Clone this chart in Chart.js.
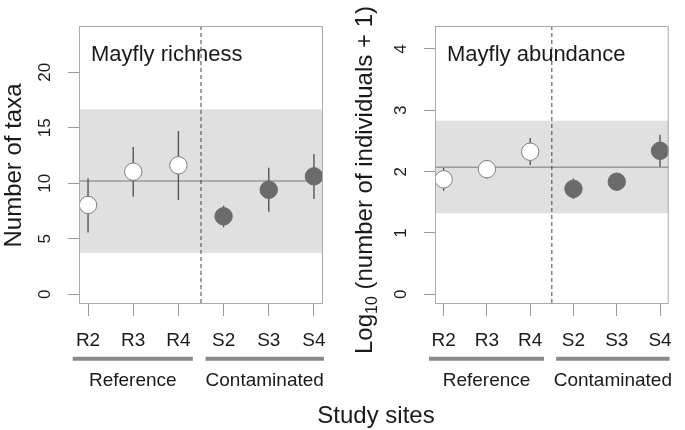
<!DOCTYPE html>
<html>
<head>
<meta charset="utf-8">
<script src="https://cdn.jsdelivr.net/npm/chart.js@4.4.1/dist/chart.umd.min.js"></script>
<style>
  html, body { margin: 0; padding: 0; background: #fff; }
  #wrap { position: relative; width: 685px; height: 430px; overflow: hidden; font-family: "Liberation Sans", Arial, sans-serif; }
  #left { position: absolute; left: 0; top: 0; }
  #right { position: absolute; left: 340px; top: 0; }
  #xtitle { position: absolute; left: 176px; width: 400px; top: 403px; text-align: center; font-size: 24px; line-height: 24px; color: #1a1a1a; }
</style>
</head>
<body>
<div id="wrap">
  <canvas id="left" width="340" height="430"></canvas>
  <canvas id="right" width="345" height="430"></canvas>
  <div id="xtitle">Study sites</div>
</div>
<script>
const sites = ["R2", "R3", "R4", "S2", "S3", "S4"];
const siteGroup = [0, 0, 0, 1, 1, 1];
const groups = ["Reference", "Contaminated"];
const groupStart = [0.66, 3.6];
const groupEnd = [3.32, 6.22];

const richMean = [8.05, 11.05, 11.62, 7.03, 9.42, 10.63];
const richLow = [5.58, 8.8, 8.5, 6.04, 7.44, 8.59];
const richHigh = [10.45, 13.27, 14.71, 7.98, 11.4, 12.64];
const richOverall = 10.2;
const richBand = [3.73, 16.67];
const richTicks = [0, 5, 10, 15, 20];

const abunMean = [1.875, 2.04, 2.325, 1.72, 1.836, 2.34];
const abunLow = [1.69, 1.89, 2.11, 1.555, 1.76, 2.08];
const abunHigh = [2.06, 2.19, 2.55, 1.89, 1.91, 2.6];
const abunOverall = 2.07;
const abunBand = [1.32, 2.83];
const abunTicks = [0, 1, 2, 3, 4];

const FONT = '"Liberation Sans", Arial, sans-serif';
const groupFill = ["#ffffff", "#6b6b6b"];
const groupBorder = ["#808080", "#6b6b6b"];

function panelPlugin(cfg) {
  return {
    id: "panel",
    beforeDatasetsDraw(chart) {
      const { ctx, chartArea: a, scales: { x, y } } = chart;
      ctx.save();
      // reference band
      const yTop = y.getPixelForValue(cfg.band[1]);
      const yBot = y.getPixelForValue(cfg.band[0]);
      ctx.fillStyle = "#e0e0e0";
      ctx.fillRect(a.left, yTop, a.right - a.left, yBot - yTop);
      // overall mean
      const ym = y.getPixelForValue(cfg.overall);
      ctx.strokeStyle = "#9a9a9a";
      ctx.lineWidth = 1.5;
      ctx.beginPath();
      ctx.moveTo(a.left, ym);
      ctx.lineTo(a.right, ym);
      ctx.stroke();
      // group divider
      const xd = x.getPixelForValue(3.5);
      ctx.strokeStyle = "#444";
      ctx.lineWidth = 1;
      ctx.setLineDash([4, 3]);
      ctx.beginPath();
      ctx.moveTo(xd, a.top);
      ctx.lineTo(xd, a.bottom);
      ctx.stroke();
      ctx.restore();
    },
    afterDraw(chart) {
      const { ctx, chartArea: a, scales: { x, y } } = chart;
      ctx.save();
      // box
      ctx.strokeStyle = "#aaaaaa";
      ctx.lineWidth = 1;
      ctx.strokeRect(a.left + 0.5, a.top + 0.5, a.right - a.left - 1, a.bottom - a.top - 1);

      ctx.fillStyle = "#1a1a1a";
      // panel label
      ctx.font = "22px " + FONT;
      ctx.textAlign = "left";
      ctx.textBaseline = "alphabetic";
      ctx.fillText(cfg.label, a.left + 12, 61);

      // rotated y tick labels
      ctx.font = "17px " + FONT;
      ctx.textAlign = "center";
      cfg.ticks.forEach((t) => {
        const py = y.getPixelForValue(t);
        ctx.save();
        ctx.translate(a.left - 29, py);
        ctx.rotate(-Math.PI / 2);
        ctx.fillText(String(t), 0, 0);
        ctx.restore();
      });

      // y title
      ctx.save();
      ctx.translate(cfg.titleX, cfg.titleY);
      ctx.rotate(-Math.PI / 2);
      let total = 0;
      cfg.title.forEach((p) => {
        ctx.font = p.size + "px " + FONT;
        total += ctx.measureText(p.text).width;
      });
      let cx = -total / 2;
      ctx.textAlign = "left";
      cfg.title.forEach((p) => {
        ctx.font = p.size + "px " + FONT;
        ctx.fillText(p.text, cx, p.shift || 0);
        cx += ctx.measureText(p.text).width;
      });
      ctx.restore();

      // group bars and names
      groups.forEach((g, i) => {
        const x0 = x.getPixelForValue(groupStart[i]);
        const x1 = x.getPixelForValue(groupEnd[i]);
        ctx.strokeStyle = "#8a8a8a";
        ctx.lineWidth = 4;
        ctx.beginPath();
        ctx.moveTo(x0, 358.7);
        ctx.lineTo(x1, 358.7);
        ctx.stroke();
        ctx.font = "19px " + FONT;
        ctx.textAlign = "center";
        ctx.fillText(g, (x0 + x1) / 2, 385.5);
      });
      ctx.restore();
    }
  };
}

function makePanel(canvas, cfg) {
  const points = cfg.mean.map((v, i) => ({ x: i + 1, y: v }));
  const bars = cfg.low.map((v, i) => ({ x: i + 1, y: [v, cfg.high[i]] }));
  return new Chart(canvas, {
    type: "scatter",
    data: {
      datasets: [
        {
          type: "bar",
          data: bars,
          backgroundColor: "#555555",
          barThickness: 1.4,
          inflateAmount: 0,
          borderWidth: 0,
          grouped: false,
          order: 2
        },
        {
          data: points,
          pointRadius: 8.7,
          pointBackgroundColor: points.map((_, i) => groupFill[siteGroup[i]]),
          pointBorderColor: points.map((_, i) => groupBorder[siteGroup[i]]),
          pointBorderWidth: 1,
          order: 1
        }
      ]
    },
    options: {
      responsive: false,
      animation: false,
      devicePixelRatio: 1,
      layout: { padding: { left: cfg.padLeft, right: cfg.padRight, top: 26, bottom: 0 } },
      plugins: { legend: { display: false }, tooltip: { enabled: false } },
      scales: {
        x: {
          type: "linear",
          min: 0.8,
          max: 6.2,
          offset: false,
          afterBuildTicks: (s) => { s.ticks = sites.map((_, i) => ({ value: i + 1 })); },
          afterFit: (s) => { s.height = 126; },
          border: { display: false },
          grid: { offset: false, drawOnChartArea: false, drawTicks: true, tickLength: 12, color: "#999999", lineWidth: 1 },
          ticks: {
            autoSkip: false,
            maxRotation: 0,
            padding: 13,
            color: "#1a1a1a",
            font: { family: FONT, size: 19 },
            callback: (v) => sites[v - 1]
          }
        },
        y: {
          type: "linear",
          min: cfg.yMin,
          max: cfg.yMax,
          afterBuildTicks: (s) => { s.ticks = cfg.ticks.map((v) => ({ value: v })); },
          afterFit: (s) => { s.width = 11; },
          border: { display: false },
          grid: { drawOnChartArea: false, drawTicks: true, tickLength: 11, color: "#999999", lineWidth: 1 },
          ticks: { display: false }
        }
      }
    },
    plugins: [panelPlugin(cfg)]
  });
}

makePanel(document.getElementById("left"), {
  label: "Mayfly richness",
  mean: richMean, low: richLow, high: richHigh,
  overall: richOverall, band: richBand, ticks: richTicks,
  yMin: -0.87, yMax: 24.17,
  padLeft: 68, padRight: 17,
  titleX: 20.5, titleY: 165.5,
  title: [{ text: "Number of taxa", size: 24 }]
});

makePanel(document.getElementById("right"), {
  label: "Mayfly abundance",
  mean: abunMean, low: abunLow, high: abunHigh,
  overall: abunOverall, band: abunBand, ticks: abunTicks,
  yMin: -0.158, yMax: 4.375,
  padLeft: 84, padRight: 6,
  titleX: 31.5, titleY: 180,
  title: [
    { text: "Log", size: 24 },
    { text: "10", size: 16, shift: 5 },
    { text: " (number of individuals + 1)", size: 24 }
  ]
});
</script>
</body>
</html>
